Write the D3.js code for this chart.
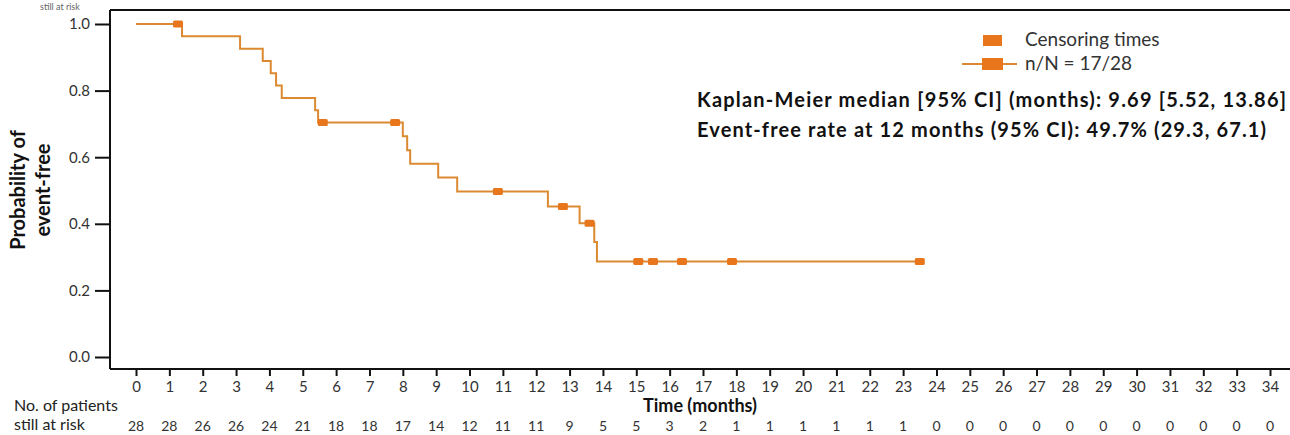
<!DOCTYPE html>
<html>
<head>
<meta charset="utf-8">
<script src="https://cdn.jsdelivr.net/npm/d3@7"></script>
<style>
  html, body { margin: 0; padding: 0; background: #fff; }
  svg { display: block; }
  text { font-family: Lato, "Open Sans", "DejaVu Sans", sans-serif; }
</style>
</head>
<body>
<svg id="chart" width="1290" height="435"></svg>
<script>
// ---- data ----
const stepTimes  = [0, 1.38, 3.12, 3.80, 4.04, 4.20, 4.37, 5.37, 5.46, 8.00, 8.13, 8.22, 9.06, 9.63, 12.35, 13.30, 13.74, 13.82];
const stepSurv   = [1.0, 0.963, 0.926, 0.889, 0.852, 0.815, 0.778, 0.741, 0.704, 0.663, 0.621, 0.580, 0.539, 0.497, 0.452, 0.402, 0.345, 0.287];
const curveEnd   = 23.5;
const censorTimes = [1.26, 5.60, 7.77, 10.85, 12.80, 13.60, 15.06, 15.50, 16.37, 17.87, 23.50];
const censorSurv  = [1.0, 0.704, 0.704, 0.497, 0.452, 0.402, 0.287, 0.287, 0.287, 0.287, 0.287];
const xTicks = d3.range(0, 35);
const yTicks = [0.0, 0.2, 0.4, 0.6, 0.8, 1.0];
const atRisk = [28, 28, 26, 26, 24, 21, 18, 18, 17, 14, 12, 11, 11, 9, 5, 5, 3, 2, 1, 1, 1, 1, 1, 1, 0, 0, 0, 0, 0, 0, 0, 0, 0, 0, 0];
const legendLabels = ["Censoring times", "n/N = 17/28"];
const statLines = [
  "Kaplan-Meier median [95% CI] (months): 9.69 [5.52, 13.86]",
  "Event-free rate at 12 months (95% CI): 49.7% (29.3, 67.1)"
];

// ---- drawing ----
const svg = d3.select("#chart");
const x = d3.scaleLinear().domain([0, 34]).range([136, 1270]);
const y = d3.scaleLinear().domain([0, 1]).range([357, 24]);
const lineColor = "#DC8A32";
const markColor = "#E8761C";
const axisLeftX = 110, axisBottomY = 369, topY = 10;

// small header fragment at top-left
svg.append("text").attr("x", 40).attr("y", 10).attr("font-size", 9).attr("fill", "#666").text("still at risk");

// frame lines
svg.append("line").attr("x1", axisLeftX).attr("x2", 1290).attr("y1", topY).attr("y2", topY)
  .attr("stroke", "#111").attr("stroke-width", 2);

// y axis
const yAxis = svg.append("g").attr("transform", `translate(${axisLeftX},0)`)
  .call(d3.axisLeft(y).tickValues(yTicks).tickFormat(d3.format(".1f")).tickSize(15).tickPadding(5));
yAxis.select(".domain").attr("d", `M0,${topY}V${axisBottomY}`).attr("stroke", "#111").attr("stroke-width", 2);
yAxis.selectAll(".tick line").attr("stroke", "#111").attr("stroke-width", 2);
yAxis.selectAll(".tick text").attr("font-size", 15).attr("fill", "#333")
  .attr("font-family", "Lato, 'Open Sans', sans-serif");

// x axis
const xAxis = svg.append("g").attr("transform", `translate(0,${axisBottomY})`)
  .call(d3.axisBottom(x).tickValues(xTicks).tickFormat(d3.format("d")).tickSize(7).tickPadding(5));
xAxis.select(".domain").attr("d", `M${axisLeftX},0H1290`).attr("stroke", "#111").attr("stroke-width", 2);
xAxis.selectAll(".tick line").attr("stroke", "#111").attr("stroke-width", 2);
xAxis.selectAll(".tick text").attr("font-size", 15).attr("fill", "#333")
  .attr("font-family", "Lato, 'Open Sans', sans-serif");

// at-risk table
svg.append("text").attr("x", 14).attr("y", 411).attr("font-size", 16).attr("fill", "#222").text("No. of patients");
svg.append("text").attr("x", 14).attr("y", 430).attr("font-size", 16).attr("fill", "#222").text("still at risk");
svg.append("g").selectAll("text").data(atRisk).join("text")
  .attr("x", (d, i) => x(xTicks[i])).attr("y", 431)
  .attr("text-anchor", "middle").attr("font-size", 14).attr("fill", "#333").text(d => d);

// axis titles
svg.append("text").attr("x", 700).attr("y", 412).attr("text-anchor", "middle")
  .attr("font-size", 18).attr("font-weight", "bold").attr("fill", "#111").text("Time (months)");
svg.append("text").attr("transform", "translate(25,190) rotate(-90)").attr("text-anchor", "middle")
  .attr("font-size", 20).attr("font-weight", "bold").attr("fill", "#111").text("Probability of");
svg.append("text").attr("transform", "translate(50,190) rotate(-90)").attr("text-anchor", "middle")
  .attr("font-size", 20).attr("font-weight", "bold").attr("fill", "#111").text("event-free");

// KM step curve
const pts = stepTimes.map((t, i) => [t, stepSurv[i]]);
pts.push([curveEnd, stepSurv[stepSurv.length - 1]]);
const line = d3.line().x(d => x(d[0])).y(d => y(d[1])).curve(d3.curveStepAfter);
svg.append("path").datum(pts).attr("d", line).attr("fill", "none")
  .attr("stroke", lineColor).attr("stroke-width", 2);

// censor marks
svg.append("g").selectAll("rect").data(censorTimes).join("rect")
  .attr("x", d => x(d) - 5).attr("y", (d, i) => y(censorSurv[i]) - 3.5)
  .attr("width", 10).attr("height", 7).attr("rx", 1.5)
  .attr("fill", markColor);

// legend
svg.append("rect").attr("x", 983).attr("y", 35).attr("width", 19).attr("height", 11).attr("fill", markColor);
svg.append("text").attr("x", 1025).attr("y", 46).attr("font-size", 19).attr("fill", "#333").text(legendLabels[0]);
svg.append("line").attr("x1", 962).attr("x2", 1017).attr("y1", 64).attr("y2", 64)
  .attr("stroke", lineColor).attr("stroke-width", 2);
svg.append("rect").attr("x", 982).attr("y", 58).attr("width", 21).attr("height", 12).attr("fill", markColor);
svg.append("text").attr("x", 1025).attr("y", 70).attr("font-size", 19).attr("fill", "#333").text(legendLabels[1]);

// stats text
const statWidths = [589, 569];
svg.selectAll("text.stat").data(statLines).join("text").attr("class", "stat")
  .attr("x", 697).attr("y", (d, i) => 107 + i * 30)
  .attr("font-size", 20).attr("font-weight", "bold").attr("fill", "#111")
  .attr("textLength", (d, i) => statWidths[i]).attr("lengthAdjust", "spacing")
  .text(d => d);
</script>
</body>
</html>
